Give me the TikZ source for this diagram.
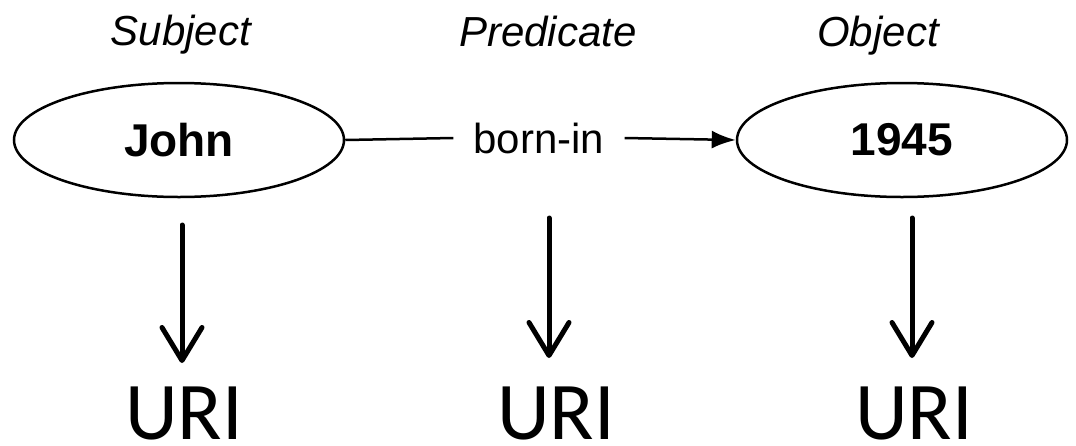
\documentclass[tikz,border=0pt]{standalone}
\usepackage{fontspec}
\setmainfont{Liberation Sans}
\newfontfamily\urifont{Carlito}
\usetikzlibrary{shapes.geometric,arrows.meta}
\tikzset{
  rolelbl/.style={font=\fontsize{42}{50}\selectfont\itshape, anchor=base, inner sep=0pt},
  term/.style={ellipse, draw, line width=2.5pt, minimum width=330pt, minimum height=114pt, inner sep=0pt, font=\fontsize{46}{54}\selectfont\bfseries},
  predlbl/.style={font=\fontsize{42}{50}\selectfont, inner xsep=20pt, inner ysep=0pt},
  conn/.style={line width=2.5pt},
  downarrow/.style={line width=5pt, line cap=round, -{Straight Barb[round, length=33pt, width=40pt]}},
  urilbl/.style={font=\urifont\fontsize{82}{94}\selectfont, anchor=base, inner sep=0pt}
}
\begin{document}
\begin{tikzpicture}[x=1pt,y=-1pt]
\useasboundingbox (0,0) rectangle (1076,445);
% role labels
\node[rolelbl] (subjl) at (181,45) {Subject};
\node[rolelbl] (predl) at (548,46) {Predicate};
\node[rolelbl] (objl) at (878,46) {Object};
% triple
\node[term] (john) at (179,140) {John};
\node[term] (year) at (902,140) {1945};
\node[predlbl] (born) at (539,138) {born-in};
\draw[conn] (john.east) -- (born.west);
\draw[conn, -{Latex[length=24pt,width=18pt]}] (born.east) -- (year.west);
% down arrows
\coordinate (s1) at (182,225); \coordinate (e1) at (182,363);
\coordinate (s2) at (549,218); \coordinate (e2) at (549,358);
\coordinate (s3) at (912,218); \coordinate (e3) at (912,358);
\node[urilbl] (uri1) at (184,439) {URI};
\node[urilbl] (uri2) at (556,439) {URI};
\node[urilbl] (uri3) at (914,439) {URI};
\draw[downarrow] (s1) -- (e1);
\draw[downarrow] (s2) -- (e2);
\draw[downarrow] (s3) -- (e3);
\end{tikzpicture}
\end{document}
